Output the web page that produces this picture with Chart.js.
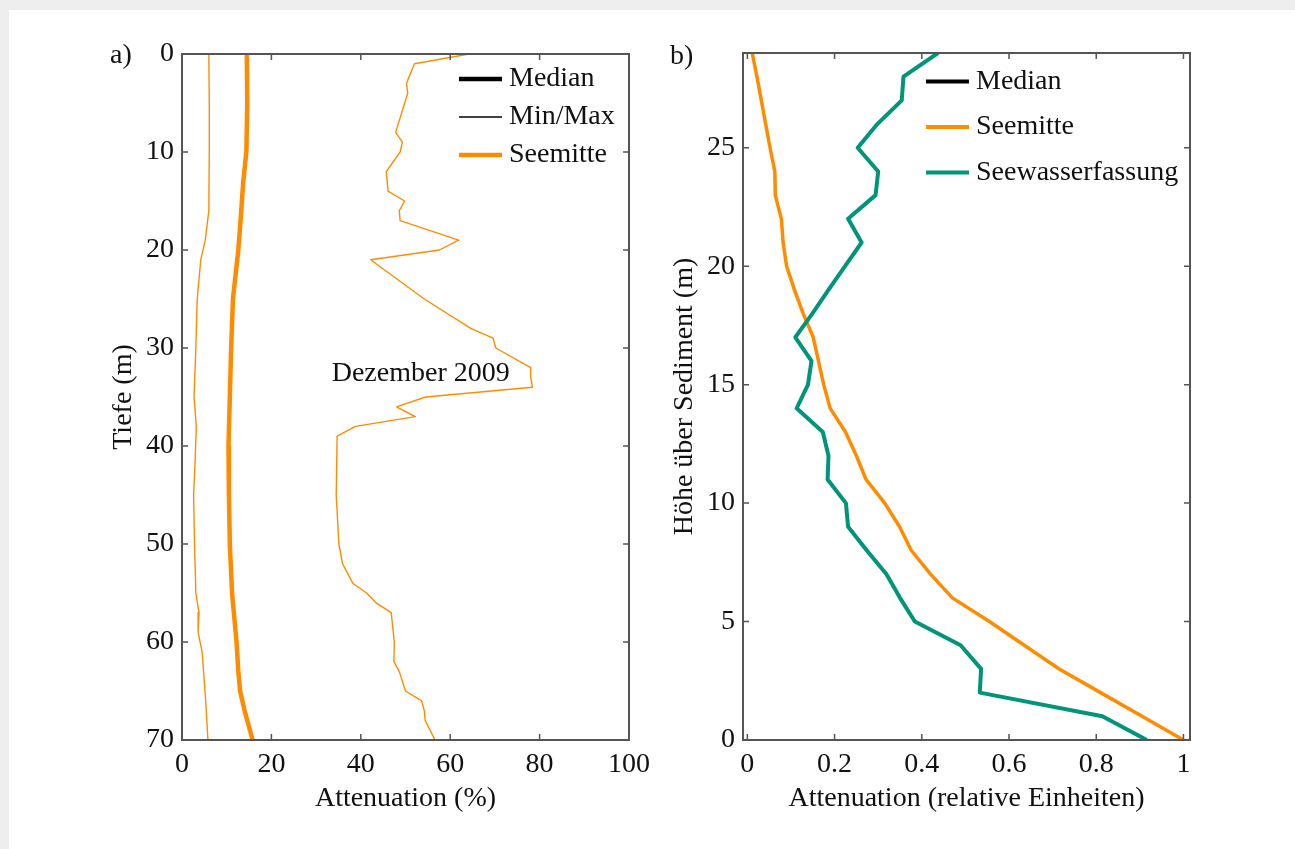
<!DOCTYPE html>
<html>
<head>
<meta charset="utf-8">
<script src="https://cdn.jsdelivr.net/npm/chart.js@4.4.1/dist/chart.umd.min.js"></script>
<style>
  html, body { margin: 0; padding: 0; width: 1295px; height: 849px; overflow: hidden; background: #eeeeee; }
  #sheet { position: absolute; left: 9px; top: 10px; right: 0; bottom: 0; background: #ffffff; }
  canvas { position: absolute; top: 0; }
  #chartA { left: 0; }
  #chartB { left: 660px; }
</style>
</head>
<body>
<div id="sheet"></div>
<canvas id="chartA" width="660" height="849"></canvas>
<canvas id="chartB" width="635" height="849"></canvas>
<script>
// ---- Panel a: attenuation profile vs. depth (Seemitte, Dezember 2009) ----
const depthMedianA = [0, 5, 10, 13, 17, 20, 25, 30, 35, 40, 45, 50, 55, 58, 60, 63, 65, 67, 70];
const medianA      = [14.5, 14.6, 14.4, 13.7, 13.1, 12.6, 11.4, 11.0, 10.7, 10.4, 10.5, 10.7, 11.2, 11.8, 12.2, 12.6, 13.0, 14.0, 15.8];

const depthMinA = [0, 5, 10, 16, 19, 21, 25, 30, 35, 38, 42, 45, 50, 55, 57, 59, 61, 66, 70];
const minA      = [6.0, 6.1, 6.1, 6.0, 5.2, 4.2, 3.4, 3.1, 2.7, 3.2, 2.9, 2.6, 2.8, 3.1, 3.8, 3.6, 4.5, 5.3, 5.8];

const depthMaxA = [0, 1, 3, 4, 8, 9, 10, 12, 14, 15, 16, 17, 19, 20, 21, 25, 28, 29, 30, 32, 33, 34, 35, 36, 37, 38, 39, 45, 50, 52, 54, 55, 56, 57, 60, 62, 63, 65, 66, 67, 68, 70];
const maxA      = [64.2, 52.0, 50.2, 50.5, 47.8, 49.3, 48.8, 45.7, 46.1, 49.8, 48.6, 48.8, 61.9, 57.6, 42.2, 54.2, 64.6, 69.6, 70.2, 78.0, 78.0, 78.4, 54.5, 48.0, 52.2, 38.8, 34.7, 34.5, 35.1, 35.9, 38.2, 41.3, 43.4, 46.8, 47.5, 47.4, 48.6, 50.0, 53.6, 54.2, 54.4, 56.6];

const xTicksA = [0, 20, 40, 60, 80, 100];
const xTickLabelsA = ['0', '20', '40', '60', '80', '100'];
const yTicksA = [0, 10, 20, 30, 40, 50, 60, 70];
const yTickLabelsA = ['0', '10', '20', '30', '40', '50', '60', '70'];
const legendLabelsA = ['Median', 'Min/Max', 'Seemitte'];
const noteA = 'Dezember 2009';
const noteAPos = [53.4, 32.6];

// ---- Panel b: relative attenuation vs. height above sediment ----
const heightB = [0, 1, 2, 3, 4, 5, 6, 7, 8, 9, 10, 11, 12, 13, 14, 15, 16, 17, 18, 19, 20, 21, 22, 23, 24, 25, 26, 27, 28, 29];
const seemitteB = [1.0, 0.905, 0.81, 0.715, 0.635, 0.555, 0.47, 0.42, 0.376, 0.349, 0.315, 0.272, 0.25, 0.225, 0.19, 0.175, 0.163, 0.151, 0.128, 0.108, 0.09, 0.082, 0.078, 0.064, 0.063, 0.052, 0.042, 0.032, 0.022, 0.011];
const seewasserB = [0.916, 0.814, 0.533, 0.536, 0.489, 0.384, 0.35, 0.319, 0.274, 0.231, 0.226, 0.184, 0.186, 0.173, 0.113, 0.139, 0.147, 0.110, 0.149, 0.186, 0.224, 0.262, 0.231, 0.294, 0.300, 0.253, 0.298, 0.354, 0.358, 0.437];

const xTicksB = [0, 0.2, 0.4, 0.6, 0.8, 1];
const xTickLabelsB = ['0', '0.2', '0.4', '0.6', '0.8', '1'];
const yTicksB = [0, 5, 10, 15, 20, 25];
const yTickLabelsB = ['0', '5', '10', '15', '20', '25'];
const legendLabelsB = ['Median', 'Seemitte', 'Seewasserfassung'];

// ---- styling ----
const SERIF = '"Liberation Serif", "Times New Roman", serif';
const FONT_SIZE = 28;
const TEXT = '#111111';
const AXIS = '#555555';
const ORANGE = '#ff8c00';
const TEAL = '#00957a';

const pts = (xs, ys) => xs.map((x, i) => ({ x: x, y: ys[i] }));

// Frame, inward tick marks, panel letter, legend and note, drawn on top of the data
const decor = {
  id: 'decor',
  afterDatasetsDraw(chart, args, o) {
    const { ctx, chartArea: a, scales } = chart;
    const L = 6;
    ctx.save();
    ctx.strokeStyle = AXIS;
    ctx.lineWidth = 1.5;
    ctx.beginPath();
    scales.x.ticks.forEach(t => {
      const px = scales.x.getPixelForValue(t.value);
      ctx.moveTo(px, a.bottom); ctx.lineTo(px, a.bottom - L);
      ctx.moveTo(px, a.top); ctx.lineTo(px, a.top + L);
    });
    scales.y.ticks.forEach(t => {
      const py = scales.y.getPixelForValue(t.value);
      ctx.moveTo(a.left, py); ctx.lineTo(a.left + L, py);
      ctx.moveTo(a.right, py); ctx.lineTo(a.right - L, py);
    });
    ctx.stroke();
    ctx.lineWidth = 2;
    ctx.strokeRect(a.left, a.top, a.right - a.left, a.bottom - a.top);

    ctx.fillStyle = TEXT;
    ctx.font = FONT_SIZE + 'px ' + SERIF;
    ctx.textBaseline = 'middle';
    ctx.textAlign = 'left';
    // panel letter
    ctx.fillText(o.letter, a.left + o.letterDx, a.top + o.letterDy);

    // legend
    o.legend.forEach((item, i) => {
      const y = a.top + o.legendTop + i * o.legendStep;
      const x0 = a.left + o.legendX;
      ctx.strokeStyle = item.color;
      ctx.lineWidth = item.width;
      ctx.beginPath();
      ctx.moveTo(x0, y); ctx.lineTo(x0 + 43, y);
      ctx.stroke();
      ctx.fillStyle = TEXT;
      ctx.fillText(item.label, x0 + 50, y);
    });

    // note anchored in data coordinates
    if (o.note) {
      ctx.textAlign = 'center';
      ctx.fillText(o.note.text, scales.x.getPixelForValue(o.note.x), scales.y.getPixelForValue(o.note.y));
    }
    ctx.restore();
  }
};

function axis(opts) {
  return {
    type: 'linear',
    position: opts.position,
    min: opts.min,
    max: opts.max,
    reverse: !!opts.reverse,
    grid: { display: false, drawTicks: false },
    border: { display: false },
    ticks: {
      autoSkip: false,
      maxRotation: 0,
      padding: opts.padding,
      color: TEXT,
      font: { family: SERIF, size: FONT_SIZE },
      callback: (v) => {
        const i = opts.values.findIndex(t => Math.abs(t - v) < 1e-9);
        return i >= 0 ? opts.labels[i] : '';
      }
    },
    title: {
      display: true,
      text: opts.title,
      color: TEXT,
      font: { family: SERIF, size: FONT_SIZE },
      padding: opts.titlePadding
    },
    afterBuildTicks: (scale) => { scale.ticks = opts.values.map(v => ({ value: v })); },
    afterFit: (scale) => {
      if (opts.position === 'bottom') scale.height = opts.size; else scale.width = opts.size;
    }
  };
}

Chart.defaults.font.family = SERIF;

new Chart(document.getElementById('chartA'), {
  type: 'scatter',
  data: {
    datasets: [
      { label: 'Median', data: pts(medianA, depthMedianA), borderColor: ORANGE, borderWidth: 4.5, showLine: true, pointRadius: 0, borderJoinStyle: 'round' },
      { label: 'Min', data: pts(minA, depthMinA), borderColor: ORANGE, borderWidth: 1.4, showLine: true, pointRadius: 0, borderJoinStyle: 'round' },
      { label: 'Max', data: pts(maxA, depthMaxA), borderColor: ORANGE, borderWidth: 1.4, showLine: true, pointRadius: 0, borderJoinStyle: 'round' }
    ]
  },
  options: {
    responsive: false,
    animation: false,
    devicePixelRatio: 1,
    layout: { padding: { left: 100, top: 54, right: 31, bottom: 0 } },
    plugins: {
      legend: { display: false },
      tooltip: { enabled: false },
      decor: {
        letter: 'a)', letterDx: -72, letterDy: 2,
        legendX: 277, legendTop: 25, legendStep: 38,
        legend: [
          { label: legendLabelsA[0], color: '#000000', width: 4.5 },
          { label: legendLabelsA[1], color: '#000000', width: 1.3 },
          { label: legendLabelsA[2], color: ORANGE, width: 4.5 }
        ],
        note: { text: noteA, x: noteAPos[0], y: noteAPos[1] }
      }
    },
    scales: {
      x: axis({ position: 'bottom', min: 0, max: 100, values: xTicksA, labels: xTickLabelsA, padding: 8, title: 'Attenuation (%)', titlePadding: { top: 0, bottom: 34 }, size: 109 }),
      y: axis({ position: 'left', min: 0, max: 70, reverse: true, values: yTicksA, labels: yTickLabelsA, padding: 8, title: 'Tiefe (m)', titlePadding: { top: 7, bottom: 0 }, size: 82 })
    }
  },
  plugins: [decor]
});

new Chart(document.getElementById('chartB'), {
  type: 'scatter',
  data: {
    datasets: [
      { label: 'Seewasserfassung', data: pts(seewasserB, heightB), borderColor: TEAL, borderWidth: 4, showLine: true, pointRadius: 0, borderJoinStyle: 'round', order: 1 },
      { label: 'Seemitte', data: pts(seemitteB, heightB), borderColor: ORANGE, borderWidth: 3.5, showLine: true, pointRadius: 0, borderJoinStyle: 'round', order: 2 }
    ]
  },
  options: {
    responsive: false,
    animation: false,
    devicePixelRatio: 1,
    layout: { padding: { left: 5, top: 53, right: 105, bottom: 0 } },
    plugins: {
      legend: { display: false },
      tooltip: { enabled: false },
      decor: {
        letter: 'b)', letterDx: -73, letterDy: 4,
        legendX: 183, legendTop: 28.5, legendStep: 45.5,
        legend: [
          { label: legendLabelsB[0], color: '#000000', width: 4 },
          { label: legendLabelsB[1], color: ORANGE, width: 4 },
          { label: legendLabelsB[2], color: TEAL, width: 4 }
        ]
      }
    },
    scales: {
      x: axis({ position: 'bottom', min: -0.01, max: 1.015, values: xTicksB, labels: xTickLabelsB, padding: 8, title: 'Attenuation (relative Einheiten)', titlePadding: { top: 0, bottom: 34 }, size: 109 }),
      y: axis({ position: 'left', min: 0, max: 29, values: yTicksB, labels: yTickLabelsB, padding: 8, title: 'Höhe über Sediment (m)', titlePadding: { top: 3, bottom: 0 }, size: 78 })
    }
  },
  plugins: [decor]
});
</script>
</body>
</html>
